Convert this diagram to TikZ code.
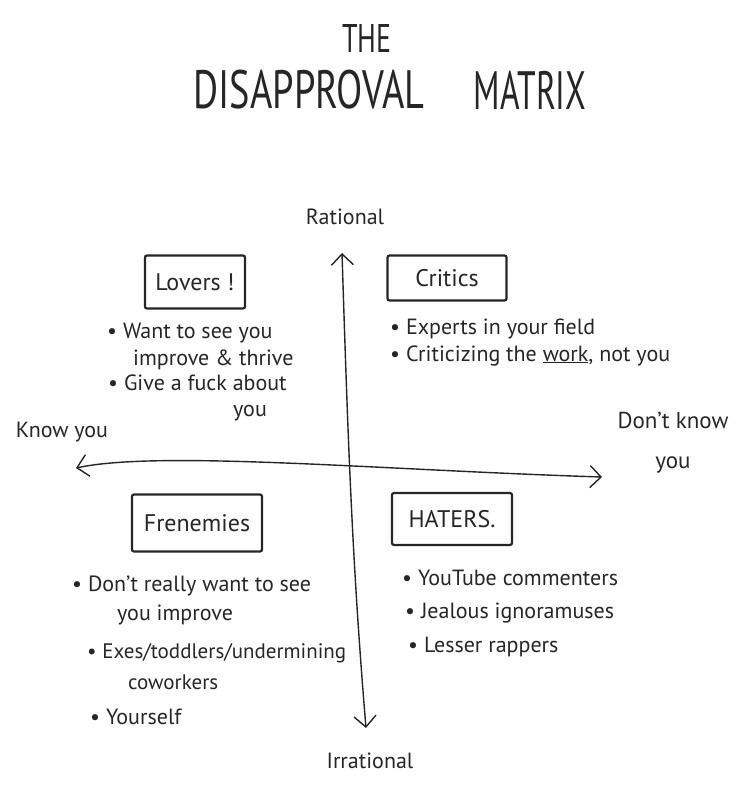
\documentclass[tikz,border=0pt]{standalone}
\usepackage{fontspec}
\setmainfont{PT Sans}
\usetikzlibrary{arrows.meta}

\begin{document}
\begin{tikzpicture}[x=1pt,y=-1pt,
  every node/.style={inner sep=0pt, text=black!85},
  title/.style={font=\fontsize{#1}{#1}\selectfont},
  quadbox/.style={draw=black!85, line width=2.2pt, rounded corners=2pt, font=\fontsize{24}{24}\selectfont},
  item/.style={anchor=base west, align=left, font=\fontsize{22}{#1}\selectfont},
  item/.default=27,
  axislabel/.style={align=center, font=\fontsize{22}{40}\selectfont},
  axis/.style={draw=black!85, line width=1.4pt,
    {Straight Barb[length=11pt,width=22pt,line width=1.4pt]}-{Straight Barb[length=11pt,width=22pt,line width=1.4pt]}}]

\useasboundingbox (0,0) rectangle (750,798);

% Title
\node[title=40] (the) at (367,38) {\scalebox{0.7}[1]{THE}};
\node[title=54] (disapproval) at (309,90) {\scalebox{0.71}[1]{DISAPPROVAL}};
\node[title=54] (matrix) at (530,90) {\scalebox{0.62}[1]{MATRIX}};

% Axes
\coordinate (vtop) at (342,253);
\coordinate (vbot) at (366,728);
\coordinate (hleft) at (76,468);
\coordinate (hright) at (602,477);
\draw[axis] (vtop) .. controls (348,440) and (352,560) .. (vbot);
\draw[axis] (hleft) .. controls (160,450) and (380,470) .. (hright);

\node[axislabel] (rational) at (345,217) {Rational};
\node[axislabel] (irrational) at (370,761) {Irrational};
\node[axislabel] (knowyou) at (62,432) {Know you};
\node[axislabel, font=\fontsize{23}{40}\selectfont] (dontknow) at (673,443) {Don't know\\you};

% Quadrant boxes
\node[quadbox, minimum width=100pt, minimum height=53pt] (lovers) at (195,282) {Lovers !};
\node[quadbox, minimum width=119pt, minimum height=45pt] (critics) at (447,278) {Critics};
\node[quadbox, minimum width=130pt, minimum height=57pt] (frenemies) at (197,523) {Frenemies};
\node[quadbox, minimum width=120pt, minimum height=52pt] (haters) at (452,519) {HATERS.};

% Lovers
\node[item] (lov1) at (107,365) {• Want to see you\\\hspace*{26pt}improve \& thrive};
\node[item=26] (lov2) at (108,416) {• Give a fuck about\\\hspace*{125pt}you};

% Critics
\node[item] (cri1) at (390,334) {• Experts in your field};
\node[item] (cri2) at (390,361) {• Criticizing the \underline{work}, not you};

% Frenemies
\node[item=29] (fre1) at (72,620) {• Don't really want to see\\\hspace*{45pt}you improve};
\node[item=31, font=\fontsize{21}{31}\selectfont] (fre2) at (87,689) {• Exes/toddlers/undermining\\\hspace*{41pt}coworkers};
\node[item] (fre3) at (90,724) {• Yourself};

% Haters
\node[item] (hat1) at (402,585) {• YouTube commenters};
\node[item] (hat2) at (405,618) {• Jealous ignoramuses};
\node[item] (hat3) at (408,652) {• Lesser rappers};

\end{tikzpicture}
\end{document}
